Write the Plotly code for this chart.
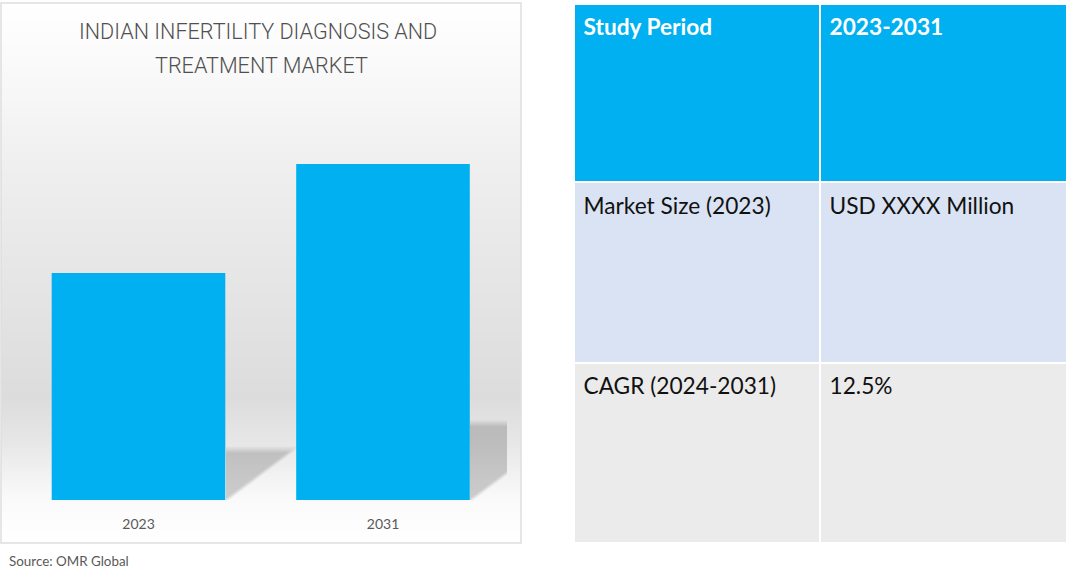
import numpy as np
import plotly.graph_objects as go

W, H = 1070, 570

# chart values (no axis in the source, heights)
years = ["2023", "2031"]
market_size = [227, 336]
bar_colour = "#00B0F0"
title_lines = ["INDIAN INFERTILITY DIAGNOSIS AND", "TREATMENT MARKET"]
title_centres = [257.5, 261]
source_note = "Source: OMR Global"

# summary table, one list per column
col_heads = ["<b>Study Period</b>", "Market Size (2023)", "CAGR (2024-2031)"]
col_values = ["<b>2023-2031</b>", "USD XXXX Million", "12.5%"]
row_fills = [bar_colour, "#DAE3F3", "#EBEBEB"]
row_text = ["white", "#111111", "#111111"]
row_tops = [5, 183, 364]
row_bottoms = [181, 362, 542]
col_lefts = [575, 821]
col_rights = [819, 1066]
text_tops = [5, 189, 369]

# panel gradient, top to bottom
panel_stops = [
    [0.0, "#ffffff"], [0.17, "#f7f7f7"], [0.30, "#efefef"], [0.55, "#e4e4e4"],
    [0.73, "#dcdcdc"], [0.81, "#e6e6e6"], [0.92, "#fafafa"], [1.0, "#ffffff"],
]


def px_x(p):
    return p / W


def px_y(p):
    return 1 - p / H


UNIT = 244.5
X_LEFT, X_RIGHT = 16, 507
BASE, TOP = 500, 4
BAR_WIDTH = 0.71
x_pos = [0, 1]
x_range = [(X_LEFT - 138.5) / UNIT, (X_RIGHT - 138.5) / UNIT]

fig = go.Figure()

# panel background
fig.add_heatmap(
    z=np.linspace(0, 1, 540).reshape(-1, 1).repeat(2, axis=1),
    colorscale=panel_stops, showscale=False, hoverinfo="skip",
    xaxis="x", yaxis="y",
)

# soft floor shadows behind the bars
gx = np.arange(X_LEFT, X_RIGHT + 1)
gy = np.arange(0, BASE - TOP + 1)
xx, yy = np.meshgrid(gx, gy)
shade = np.zeros(xx.shape)
for p, v in zip(x_pos, market_size):
    right = 138.5 + p * UNIT + BAR_WIDTH * UNIT / 2
    dx = xx - right
    top_fade = np.clip((0.24 * v - yy) / 7, 0, 1)
    diag_fade = np.clip((yy - 0.75 * dx) / 5 + 0.5, 0, 1)
    shade = np.maximum(shade, top_fade * diag_fade * (dx > 0))
fig.add_heatmap(
    x=(gx - 138.5) / UNIT, y=gy, z=shade, zmin=0, zmax=1,
    colorscale=[[0, "rgba(0,0,0,0)"], [1, "rgba(0,0,0,0.18)"]],
    showscale=False, hoverinfo="skip", xaxis="x2", yaxis="y2",
)

fig.add_bar(
    x=x_pos, y=market_size, width=BAR_WIDTH,
    marker=dict(color=bar_colour, line=dict(width=0)),
    xaxis="x2", yaxis="y2", showlegend=False,
)

# table cells can't pad their text, so shapes paint the cells and the table only sets the text
for i in range(3):
    fig.add_table(
        domain=dict(x=[px_x(575.5), px_x(1068.5)], y=[px_y(text_tops[i] + 60), px_y(text_tops[i])]),
        columnwidth=[246, 247],
        header=dict(
            values=[col_heads[i], col_values[i]],
            height=60, align="left",
            fill_color="rgba(0,0,0,0)", line=dict(color="rgba(0,0,0,0)", width=0),
            font=dict(family="Lato", size=22.7, color=row_text[i]),
        ),
    )

shapes = [dict(
    type="rect", xref="paper", yref="paper",
    x0=px_x(1), x1=px_x(521), y0=px_y(543), y1=px_y(3),
    line=dict(color="#dedede", width=1.5),
)]
for i in range(3):
    for j in range(2):
        shapes.append(dict(
            type="rect", xref="paper", yref="paper", layer="below",
            x0=px_x(col_lefts[j]), x1=px_x(col_rights[j]),
            y0=px_y(row_bottoms[i]), y1=px_y(row_tops[i]),
            fillcolor=row_fills[i], line=dict(width=0),
        ))

title_font = dict(family="Roboto", size=21.6, color="#505050", weight=300)
notes = [
    dict(text=title_lines[0], x=px_x(title_centres[0]), y=px_y(32), xanchor="center", font=title_font),
    dict(text=title_lines[1], x=px_x(title_centres[1]), y=px_y(65), xanchor="center", font=title_font),
    dict(text=source_note, x=px_x(6.5), y=px_y(561), xanchor="left",
         font=dict(family="Lato", size=13.4, color="#595959")),
]
for n in notes:
    n.update(xref="paper", yref="paper", yanchor="middle", showarrow=False)

fig.update_layout(
    width=W, height=H,
    margin=dict(l=0, r=0, t=0, b=0),
    paper_bgcolor="white", plot_bgcolor="rgba(0,0,0,0)",
    showlegend=False,
    xaxis=dict(domain=[px_x(1), px_x(521)], visible=False),
    yaxis=dict(domain=[px_y(543), px_y(3)], visible=False, autorange="reversed"),
    xaxis2=dict(
        domain=[px_x(X_LEFT), px_x(X_RIGHT)], range=x_range, anchor="y2",
        tickvals=x_pos, ticktext=years, ticks="outside", ticklen=11,
        tickcolor="rgba(0,0,0,0)", showgrid=False, zeroline=False, showline=False,
        tickfont=dict(family="Lato", size=14, color="#595959"),
    ),
    yaxis2=dict(
        domain=[px_y(BASE), px_y(TOP)], range=[0, BASE - TOP], anchor="x2",
        visible=False,
    ),
    shapes=shapes,
    annotations=notes,
)

# the page's default body margin would push the figure off the window
fig.write_html(
    "out.html",
    config={"displayModeBar": False},
    post_script="document.body.style.margin='0';",
)
